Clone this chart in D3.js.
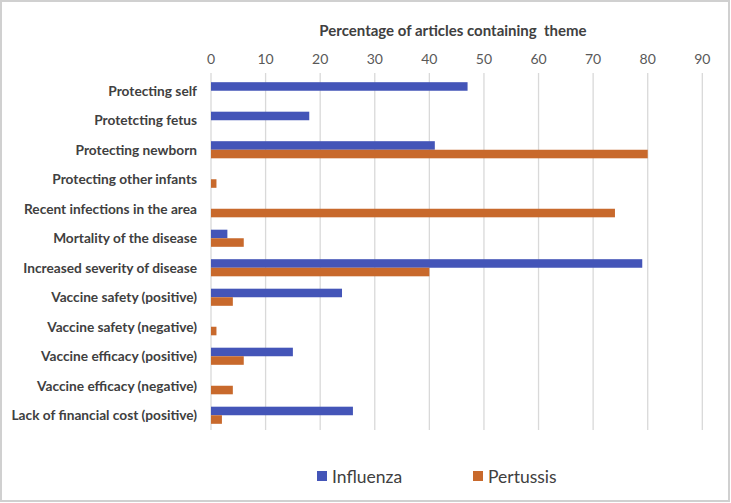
<!DOCTYPE html>
<html><head><meta charset="utf-8">
<script src="https://cdn.jsdelivr.net/npm/d3@7"></script>
<style>body{margin:0;background:#fff;}svg{display:block;}</style>
</head><body>
<script>
const categories = ["Protecting self","Protetcting fetus","Protecting newborn","Protecting other infants","Recent infections in the area","Mortality of the disease","Increased severity of disease","Vaccine safety (positive)","Vaccine safety (negative)","Vaccine efficacy (positive)","Vaccine efficacy (negative)","Lack of financial cost (positive)"];
const influenza = [47,18,41,0,0,3,79,24,0,15,0,26];
const pertussis = [0,0,80,1,74,6,40,4,1,6,4,2];
const seriesNames = ["Influenza","Pertussis"];
const colors = ["#4455b8","#c8692c"];
const ticks = [0,10,20,30,40,50,60,70,80,90];
const title = "Percentage of articles containing  theme";

(function(){
const W=731,H=503;
const svg=d3.select("body").append("svg").attr("width",W).attr("height",H);
svg.append("rect").attr("x",1).attr("y",1).attr("width",W-3).attr("height",H-3).attr("fill","#fff").attr("stroke","#d0d0d0").attr("stroke-width",2);

const pl=211,pr=702.3,pt=76,pb=430;
const x=d3.scaleLinear().domain([0,90]).range([pl,pr]);
const y=d3.scaleBand().domain(categories).range([pt,pb]).paddingInner(0.42).paddingOuter(0.21);
const ys=d3.scaleBand().domain(seriesNames).range([0,y.bandwidth()]);

const font="Lato, 'Open Sans', sans-serif";
svg.append("g").selectAll("line").data(ticks).join("line")
 .attr("x1",d=>x(d)).attr("x2",d=>x(d)).attr("y1",73).attr("y2",pb)
 .attr("stroke","#d9d9d9").attr("stroke-width",1.3);

svg.append("g").selectAll("text").data(ticks).join("text")
 .attr("x",d=>x(d)).attr("y",64).attr("text-anchor","middle")
 .attr("font-family",font).attr("font-size",14).attr("fill","#595959").text(d=>d);

svg.append("text").attr("x",453).attr("y",36).attr("text-anchor","middle")
 .attr("font-family",font).attr("font-weight","bold").attr("font-size",15).attr("fill","#404040")
 .style("white-space","pre").text(title);

svg.append("g").selectAll("text").data(categories).join("text")
 .attr("x",197).attr("y",d=>y(d)+y.bandwidth()/2+5).attr("text-anchor","end")
 .attr("font-family",font).attr("font-weight","bold").attr("font-size",13.7).attr("fill","#404040").text(d=>d);

const data=[influenza,pertussis];
data.forEach((arr,si)=>{
  svg.append("g").selectAll("rect").data(arr.map((v,i)=>({v,c:categories[i]}))).join("rect")
   .attr("x",x(0)).attr("y",d=>y(d.c)+ys(seriesNames[si]))
   .attr("width",d=>x(d.v)-x(0)).attr("height",ys.bandwidth())
   .attr("fill",colors[si]);
});

const lg=[{n:"Influenza",x:317},{n:"Pertussis",x:473}];
lg.forEach((l,i)=>{
  svg.append("rect").attr("x",l.x).attr("y",471).attr("width",10).attr("height",10).attr("fill",colors[i]);
  svg.append("text").attr("x",l.x+15).attr("y",482.5).attr("font-family",font).attr("font-size",17.5).attr("fill","#404040").text(l.n);
});
})();
</script>
</body></html>
